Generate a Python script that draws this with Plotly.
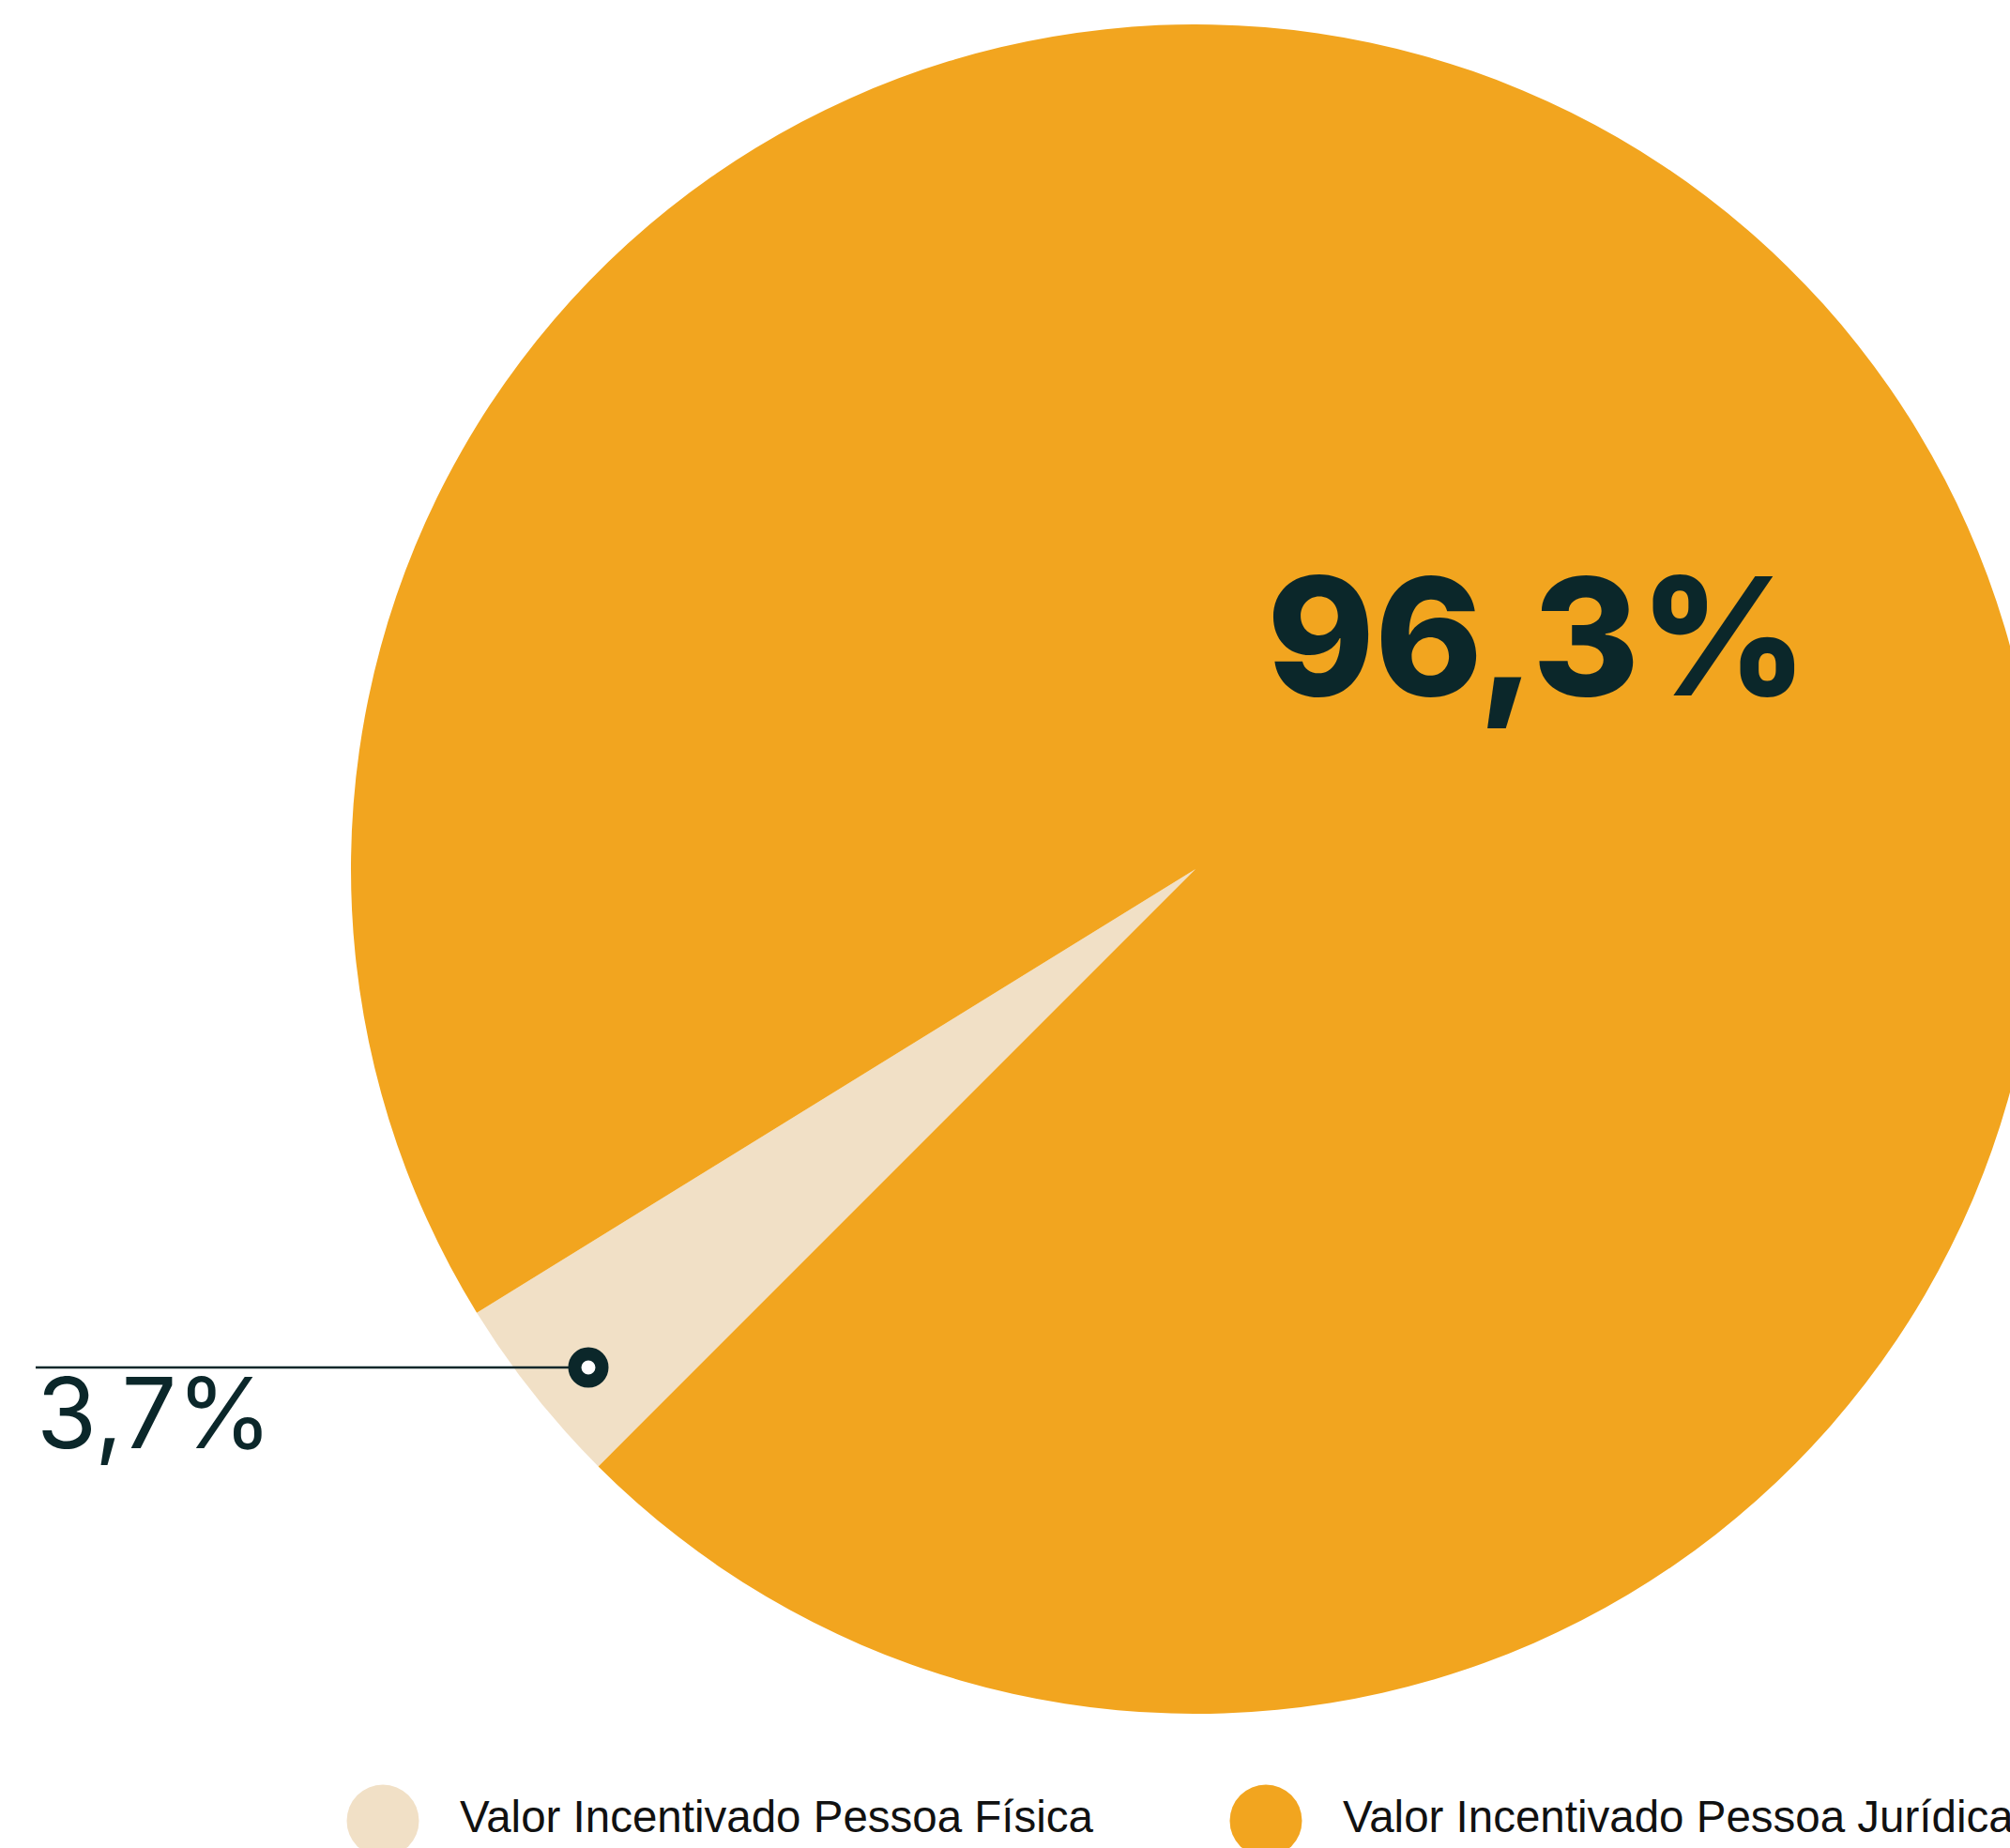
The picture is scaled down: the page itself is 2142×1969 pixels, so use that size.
import plotly.graph_objects as go

# ---- data ----
categories = ["Valor Incentivado Pessoa Física", "Valor Incentivado Pessoa Jurídica"]
values = [3.7, 96.3]
colors = ["#F1E0C6", "#F2A51F"]

# ---- style / layout constants (page pixels) ----
DARK = "#0B272A"
W, H = 2548, 2000          # figure larger than the window; it is clipped like the original
CX, CY, R = 1274, 926, 900  # pie centre / radius

def fmt(v):
    return f"{v:.1f}".replace(".", ",") + "%"

fig = go.Figure()

fig.add_trace(go.Pie(
    labels=categories,
    values=values,
    sort=False,
    direction="clockwise",
    rotation=225,
    marker=dict(colors=colors, line=dict(width=0)),
    textinfo="none",
    hoverinfo="label+percent",
    showlegend=False,
    domain=dict(x=[0, 1], y=[1 - (CY + R) / H, 1 - (CY - R) / H]),
))

# ---- custom legend (big round markers) ----
n = len(categories)
leg_idx = list(range(n))
UNIT = 941          # px between legend items
FIRST = 408         # px of first legend marker
TEXT_GAP = 82       # px from marker centre to label start
r0 = -FIRST / UNIT
r1 = r0 + W / UNIT

fig.add_trace(go.Scatter(
    x=leg_idx, y=[0] * n, mode="markers",
    marker=dict(size=77, color=colors, line=dict(width=0)),
    showlegend=False, hoverinfo="skip",
))
fig.add_trace(go.Scatter(
    x=[i + TEXT_GAP / UNIT for i in leg_idx], y=[0] * n, mode="text",
    text=categories, textposition="middle right",
    textfont=dict(size=47.5, family="Liberation Sans, Arial, sans-serif", color="#111111"),
    showlegend=False, hoverinfo="skip",
))

fig.update_xaxes(domain=[0, 1], range=[r0, r1], visible=False, fixedrange=True)
fig.update_yaxes(domain=[0, 0.06], range=[-1, 1], visible=False, fixedrange=True)

# ---- value labels ----
big_x, big_y = 1638, 678
small_x, small_y = 37, 1505
fig.add_annotation(
    x=big_x / W, y=1 - big_y / H, xref="paper", yref="paper",
    text=fmt(values[1]), showarrow=False, xanchor="center", yanchor="middle",
    font=dict(family="Inter, sans-serif", size=174, color=DARK, weight=800),
)
fig.add_annotation(
    x=small_x / W, y=1 - small_y / H, xref="paper", yref="paper",
    text=fmt(values[0]), showarrow=False, xanchor="left", yanchor="middle",
    font=dict(family="Inter, sans-serif", size=104, color=DARK, weight=400),
)

# ---- callout line + ring ----
ring_x, ring_y = 627, 1457
ring_r = 14.5
fig.add_shape(type="line", xref="paper", yref="paper",
              x0=38 / W, x1=ring_x / W, y0=1 - ring_y / H, y1=1 - ring_y / H,
              line=dict(color=DARK, width=2.5))
fig.add_shape(type="circle", xref="paper", yref="paper",
              x0=(ring_x - ring_r) / W, x1=(ring_x + ring_r) / W,
              y0=1 - (ring_y + ring_r) / H, y1=1 - (ring_y - ring_r) / H,
              fillcolor="white", line=dict(color=DARK, width=14))

fig.update_layout(
    width=W, height=H,
    margin=dict(l=0, r=0, t=0, b=0),
    paper_bgcolor="white", plot_bgcolor="rgba(0,0,0,0)",
    showlegend=False,
)

fig.write_html(
    "out.html",
    config={"displayModeBar": False},
    post_script="document.documentElement.style.overflow='hidden';"
                "document.body.style.overflow='hidden';document.body.style.margin='0';",
)
